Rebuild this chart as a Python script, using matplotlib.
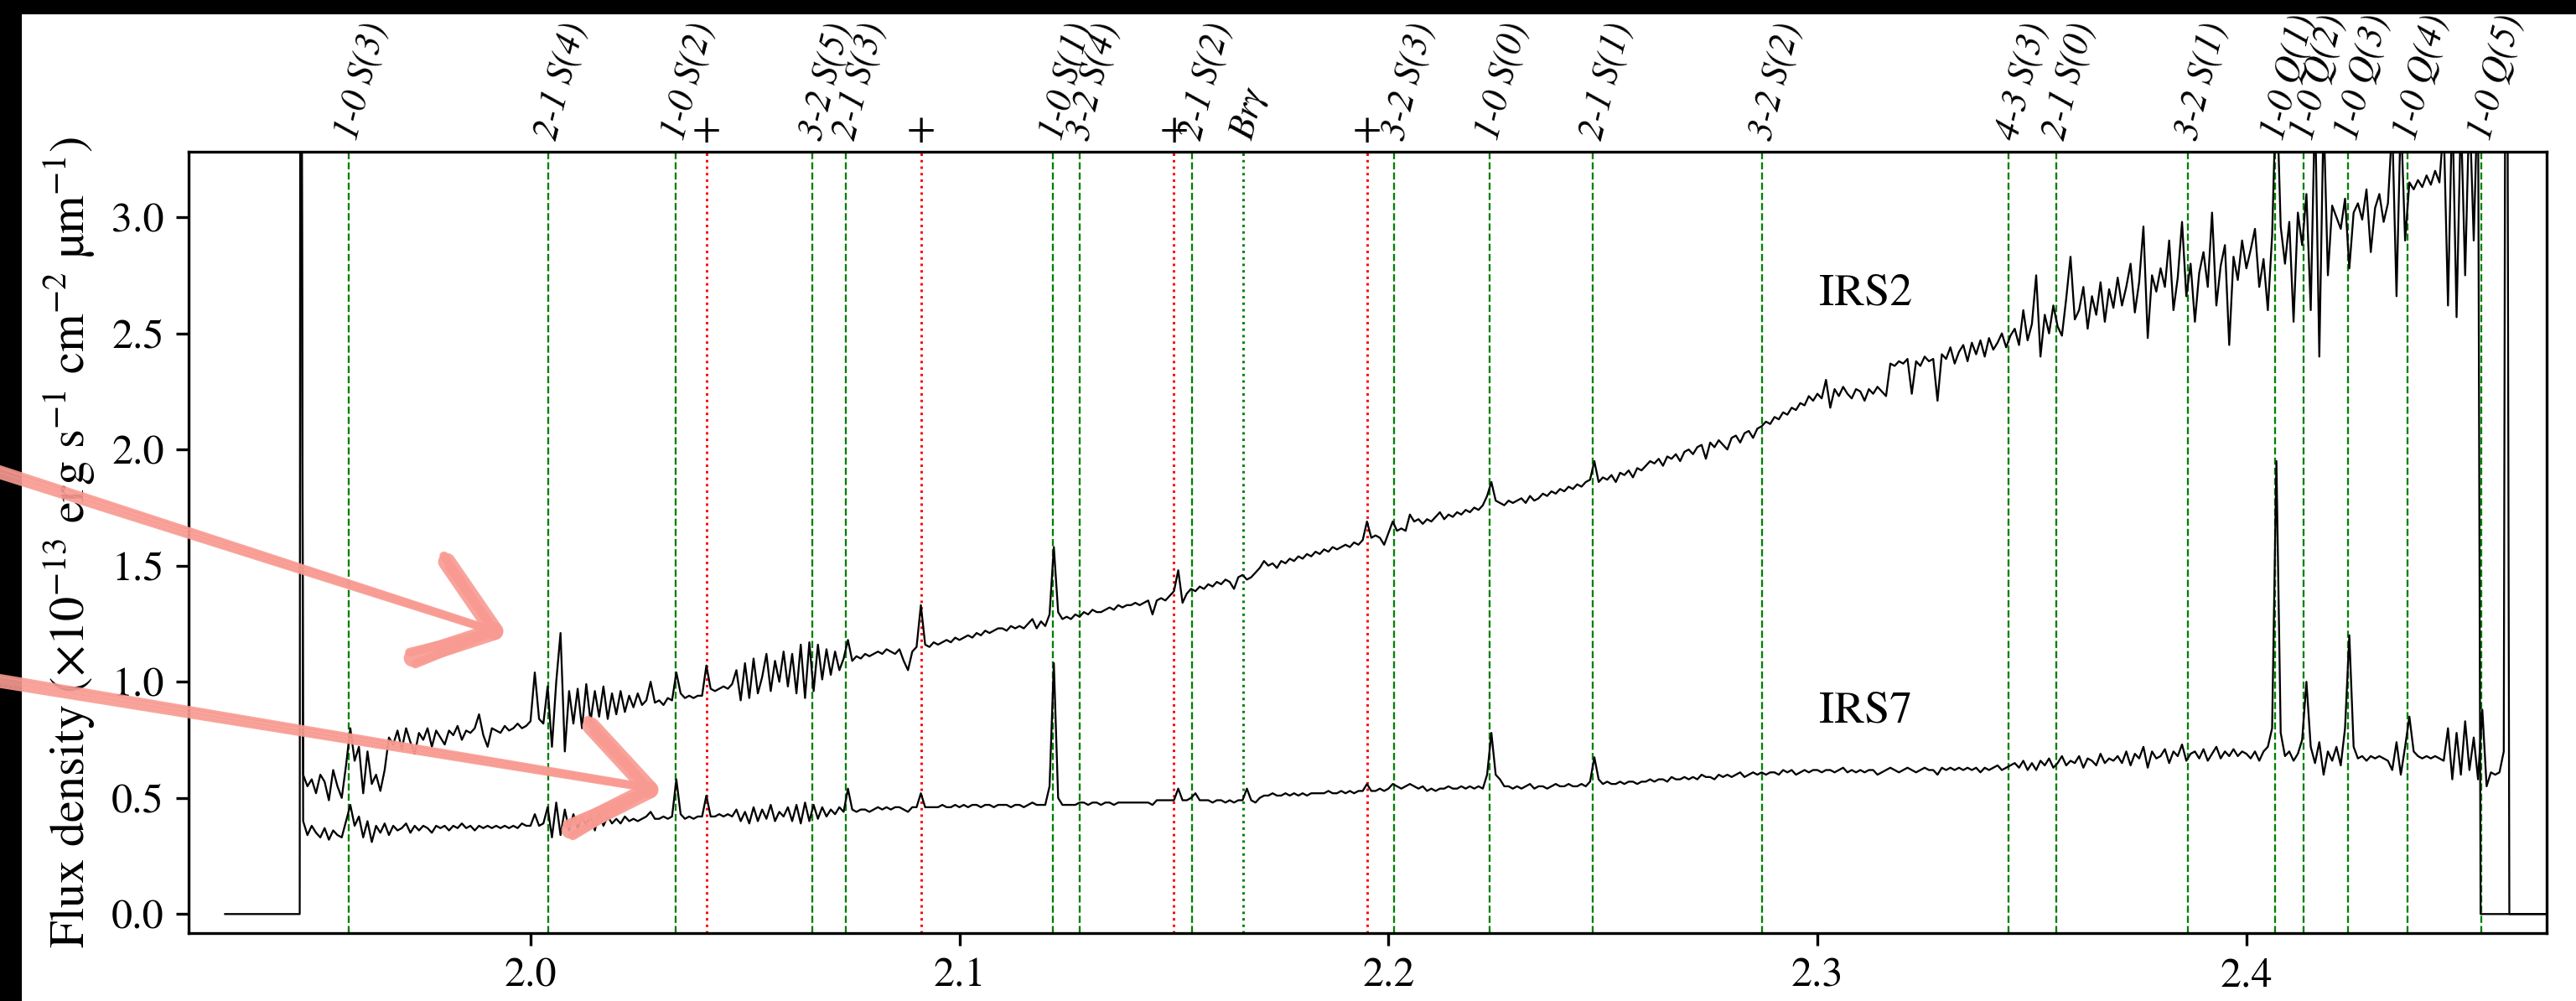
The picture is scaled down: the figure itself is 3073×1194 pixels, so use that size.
import numpy as np
import matplotlib.pyplot as plt
from matplotlib.lines import Line2D
from matplotlib.patches import Rectangle

plt.rcParams['font.family'] = 'STIXGeneral'
plt.rcParams['mathtext.fontset'] = 'stix'

# line identifications (micron)
h2_names = ['1-0 S(3)', '2-1 S(4)', '1-0 S(2)', '3-2 S(5)', '2-1 S(3)', '1-0 S(1)', '3-2 S(4)',
            '2-1 S(2)', '3-2 S(3)', '1-0 S(0)', '2-1 S(1)', '3-2 S(2)', '4-3 S(3)', '2-1 S(0)',
            '3-2 S(1)', '1-0 Q(1)', '1-0 Q(2)', '1-0 Q(3)', '1-0 Q(4)', '1-0 Q(5)']
h2_wl = [1.9576, 2.0041, 2.0338, 2.0656, 2.0735, 2.1218, 2.1280, 2.1542, 2.2014, 2.2235,
         2.2477, 2.2870, 2.3445, 2.3556, 2.3864, 2.4066, 2.4134, 2.4237, 2.4375, 2.4548]
brg_wl = 2.1661
plus_wl = [2.0410, 2.0910, 2.1500, 2.1950]

# spectra sampled from 1.947 um in steps of 0.001 um
wl_start = 1.947
wl_step = 0.001

irs2_flux = [
    0.60, 0.55, 0.58,
    0.52, 0.60, 0.57, 0.49, 0.62, 0.55, 0.50, 0.64, 0.80, 0.66,
    0.72, 0.52, 0.70, 0.56, 0.60, 0.53, 0.62, 0.76, 0.73, 0.79,
    0.71, 0.80, 0.74, 0.69, 0.78, 0.75, 0.80, 0.72, 0.79, 0.76,
    0.73, 0.79, 0.77, 0.81, 0.75, 0.79, 0.78, 0.80, 0.86, 0.77,
    0.72, 0.80, 0.79, 0.78, 0.81, 0.79, 0.80, 0.82, 0.80, 0.81,
    0.83, 1.04, 0.84, 0.82, 0.98, 0.72, 1.00, 1.21, 0.70, 0.96,
    0.82, 0.97, 0.80, 0.99, 0.83, 0.96, 0.85, 0.98, 0.84, 0.95,
    0.86, 0.96, 0.87, 0.94, 0.89, 0.95, 0.90, 0.92, 1.00, 0.91,
    0.92, 0.90, 0.93, 0.92, 1.04, 0.95, 0.93, 0.94, 0.93, 0.94,
    0.94, 1.07, 0.97, 0.96, 0.97, 0.98, 0.97, 0.99, 1.05, 0.92,
    1.08, 0.93, 1.10, 0.95, 1.02, 1.12, 0.96, 1.09, 1.00, 1.13,
    0.98, 1.12, 0.95, 1.16, 0.93, 1.17, 0.96, 1.16, 1.01, 1.14,
    1.03, 1.13, 1.05, 1.10, 1.18, 1.09, 1.11, 1.10, 1.12, 1.11,
    1.12, 1.13, 1.12, 1.14, 1.13, 1.12, 1.14, 1.09, 1.05, 1.13,
    1.15, 1.33, 1.16, 1.15, 1.17, 1.16, 1.17, 1.18, 1.17, 1.19,
    1.18, 1.19, 1.20, 1.19, 1.21, 1.20, 1.22, 1.21, 1.22, 1.23,
    1.23, 1.22, 1.24, 1.23, 1.24, 1.23, 1.25, 1.27, 1.23, 1.26,
    1.24, 1.29, 1.58, 1.30, 1.27, 1.28, 1.27, 1.29, 1.28, 1.30,
    1.29, 1.31, 1.30, 1.30, 1.31, 1.32, 1.31, 1.33, 1.32, 1.33,
    1.33, 1.34, 1.33, 1.34, 1.35, 1.29, 1.35, 1.36, 1.35, 1.37,
    1.39, 1.48, 1.34, 1.38, 1.40, 1.39, 1.41, 1.40, 1.42, 1.41,
    1.43, 1.42, 1.44, 1.43, 1.40, 1.45, 1.46, 1.44, 1.45, 1.47,
    1.49, 1.52, 1.50, 1.51, 1.49, 1.52, 1.51, 1.53, 1.52, 1.54,
    1.53, 1.55, 1.54, 1.56, 1.55, 1.57, 1.56, 1.58, 1.57, 1.58,
    1.59, 1.58, 1.60, 1.59, 1.61, 1.69, 1.62, 1.63, 1.62, 1.59,
    1.64, 1.69, 1.65, 1.66, 1.65, 1.72, 1.69, 1.70, 1.68, 1.70,
    1.69, 1.71, 1.73, 1.70, 1.72, 1.71, 1.73, 1.72, 1.74, 1.73,
    1.75, 1.74, 1.76, 1.80, 1.86, 1.78, 1.77, 1.76, 1.78, 1.77,
    1.78, 1.79, 1.77, 1.80, 1.78, 1.79, 1.81, 1.80, 1.82, 1.81,
    1.83, 1.82, 1.84, 1.83, 1.85, 1.84, 1.86, 1.87, 1.95, 1.86,
    1.88, 1.87, 1.89, 1.86, 1.90, 1.89, 1.91, 1.88, 1.92, 1.91,
    1.93, 1.95, 1.94, 1.96, 1.93, 1.97, 1.96, 1.98, 1.95, 1.99,
    2.00, 1.98, 2.01, 2.02, 1.96, 2.03, 2.01, 2.04, 2.02, 2.00,
    2.05, 2.06, 2.03, 2.07, 2.08, 2.05, 2.09, 2.10, 2.12, 2.11,
    2.14, 2.13, 2.16, 2.15, 2.18, 2.17, 2.20, 2.19, 2.23, 2.21,
    2.24, 2.22, 2.30, 2.18, 2.26, 2.23, 2.27, 2.24, 2.22, 2.26,
    2.25, 2.21, 2.26, 2.24, 2.27, 2.25, 2.23, 2.37, 2.36, 2.38,
    2.37, 2.39, 2.24, 2.38, 2.36, 2.40, 2.38, 2.39, 2.21, 2.41,
    2.39, 2.44, 2.37, 2.42, 2.45, 2.38, 2.46, 2.41, 2.47, 2.40,
    2.48, 2.43, 2.46, 2.50, 2.44, 2.49, 2.52, 2.45, 2.60, 2.47,
    2.54, 2.75, 2.40, 2.58, 2.50, 2.62, 2.53, 2.49, 2.65, 2.83,
    2.56, 2.60, 2.70, 2.52, 2.66, 2.58, 2.72, 2.55, 2.69, 2.61,
    2.74, 2.62, 2.70, 2.80, 2.59, 2.72, 2.96, 2.48, 2.75, 2.68,
    2.78, 2.70, 2.90, 2.60, 2.74, 2.98, 2.66, 2.80, 2.55, 2.76,
    2.85, 2.70, 3.02, 2.62, 2.79, 2.88, 2.45, 2.83, 2.73, 2.90,
    2.78, 2.86, 2.95, 2.70, 2.82, 2.60, 2.92, 3.60, 2.96, 2.80,
    2.98, 2.55, 3.02, 2.88, 3.10, 2.60, 3.50, 2.40, 3.45, 2.75,
    3.05, 3.00, 2.95, 3.08, 2.78, 3.02, 3.06, 2.99, 3.12, 2.85,
    3.04, 3.10, 2.98, 3.06, 3.40, 2.66, 3.45, 2.90, 3.15, 3.12,
    3.16, 3.13, 3.18, 3.14, 3.20, 3.15, 3.40, 2.62, 3.50, 2.57,
    3.45, 2.75, 3.50, 2.90, 3.60,
]

irs7_flux = [
    0.40, 0.34, 0.38,
    0.35, 0.33, 0.37, 0.32, 0.36, 0.34, 0.33, 0.40, 0.47, 0.38,
    0.42, 0.33, 0.40, 0.31, 0.38, 0.35, 0.39, 0.34, 0.38, 0.36,
    0.37, 0.39, 0.35, 0.38, 0.36, 0.38, 0.37, 0.35, 0.38, 0.37,
    0.38, 0.36, 0.38, 0.37, 0.39, 0.37, 0.38, 0.36, 0.38, 0.37,
    0.38, 0.37, 0.38, 0.37, 0.38, 0.37, 0.38, 0.37, 0.39, 0.38,
    0.38, 0.43, 0.38, 0.39, 0.46, 0.33, 0.48, 0.34, 0.45, 0.36,
    0.43, 0.37, 0.42, 0.38, 0.43, 0.36, 0.44, 0.38, 0.42, 0.39,
    0.41, 0.39, 0.42, 0.40, 0.41, 0.40, 0.41, 0.42, 0.44, 0.41,
    0.41, 0.42, 0.41, 0.42, 0.58, 0.43, 0.41, 0.42, 0.41, 0.42,
    0.42, 0.51, 0.42, 0.42, 0.43, 0.42, 0.43, 0.42, 0.45, 0.40,
    0.44, 0.39, 0.46, 0.40, 0.45, 0.41, 0.47, 0.40, 0.44, 0.42,
    0.46, 0.40, 0.47, 0.39, 0.48, 0.40, 0.47, 0.41, 0.46, 0.42,
    0.45, 0.43, 0.46, 0.44, 0.54, 0.45, 0.44, 0.45, 0.45, 0.44,
    0.45, 0.46, 0.45, 0.46, 0.45, 0.46, 0.46, 0.45, 0.44, 0.46,
    0.46, 0.52, 0.46, 0.46, 0.46, 0.46, 0.47, 0.46, 0.46, 0.47,
    0.46, 0.47, 0.46, 0.47, 0.47, 0.46, 0.47, 0.47, 0.46, 0.47,
    0.47, 0.47, 0.46, 0.47, 0.47, 0.46, 0.47, 0.48, 0.47, 0.47,
    0.47, 0.55, 1.08, 0.50, 0.47, 0.47, 0.47, 0.47, 0.48, 0.48,
    0.47, 0.48, 0.48, 0.47, 0.48, 0.48, 0.47, 0.48, 0.48, 0.48,
    0.48, 0.48, 0.48, 0.48, 0.48, 0.47, 0.49, 0.49, 0.49, 0.49,
    0.49, 0.54, 0.49, 0.49, 0.50, 0.52, 0.49, 0.49, 0.49, 0.48,
    0.49, 0.49, 0.48, 0.49, 0.48, 0.49, 0.49, 0.54, 0.49, 0.48,
    0.50, 0.51, 0.51, 0.52, 0.51, 0.51, 0.52, 0.51, 0.52, 0.51,
    0.52, 0.51, 0.52, 0.52, 0.52, 0.52, 0.53, 0.52, 0.52, 0.53,
    0.52, 0.53, 0.52, 0.53, 0.53, 0.56, 0.53, 0.53, 0.54, 0.53,
    0.54, 0.56, 0.55, 0.54, 0.55, 0.56, 0.55, 0.54, 0.55, 0.53,
    0.54, 0.53, 0.54, 0.54, 0.55, 0.54, 0.54, 0.55, 0.54, 0.55,
    0.54, 0.55, 0.54, 0.60, 0.78, 0.60, 0.58, 0.55, 0.55, 0.54,
    0.55, 0.54, 0.55, 0.56, 0.54, 0.55, 0.55, 0.54, 0.55, 0.56,
    0.55, 0.55, 0.56, 0.55, 0.55, 0.56, 0.55, 0.57, 0.675, 0.58,
    0.56, 0.57, 0.56, 0.56, 0.57, 0.56, 0.57, 0.57, 0.56, 0.57,
    0.57, 0.58, 0.57, 0.58, 0.58, 0.57, 0.59, 0.58, 0.58, 0.59,
    0.58, 0.59, 0.58, 0.60, 0.59, 0.59, 0.58, 0.60, 0.59, 0.60,
    0.59, 0.60, 0.61, 0.59, 0.60, 0.61, 0.60, 0.61, 0.60, 0.61,
    0.61, 0.60, 0.62, 0.61, 0.62, 0.60, 0.61, 0.62, 0.61, 0.62,
    0.62, 0.61, 0.62, 0.62, 0.61, 0.62, 0.63, 0.61, 0.62, 0.61,
    0.62, 0.61, 0.62, 0.62, 0.60, 0.61, 0.62, 0.63, 0.62, 0.61,
    0.62, 0.63, 0.62, 0.61, 0.62, 0.63, 0.62, 0.62, 0.60, 0.63,
    0.62, 0.63, 0.62, 0.63, 0.62, 0.63, 0.62, 0.63, 0.61, 0.63,
    0.62, 0.63, 0.64, 0.62, 0.63, 0.64, 0.65, 0.63, 0.66, 0.62,
    0.65, 0.62, 0.66, 0.64, 0.67, 0.63, 0.65, 0.68, 0.64, 0.66,
    0.65, 0.68, 0.63, 0.67, 0.66, 0.64, 0.69, 0.65, 0.67, 0.66,
    0.68, 0.65, 0.70, 0.64, 0.69, 0.67, 0.72, 0.63, 0.70, 0.67,
    0.68, 0.71, 0.65, 0.70, 0.68, 0.73, 0.66, 0.69, 0.70, 0.67,
    0.71, 0.66, 0.69, 0.72, 0.67, 0.70, 0.68, 0.71, 0.68, 0.70,
    0.69, 0.67, 0.70, 0.66, 0.70, 0.72, 0.80, 1.95, 0.78, 0.68,
    0.70, 0.66, 0.69, 0.75, 1.00, 0.72, 0.65, 0.74, 0.60, 0.70,
    0.66, 0.72, 0.64, 0.80, 1.20, 0.72, 0.67, 0.68, 0.66, 0.68,
    0.67, 0.68, 0.67, 0.66, 0.62, 0.74, 0.60, 0.72, 0.85, 0.70,
    0.68, 0.67, 0.68, 0.67, 0.68, 0.67, 0.66, 0.80, 0.58, 0.78,
    0.60, 0.83, 0.62, 0.76, 0.58, 0.88, 0.55, 0.61, 0.60, 0.61, 0.70,
]

# detector edges: padding at zero and single saturated pixels
irs2_left_wl = [1.9288, 1.9462, 1.9464]
irs2_left_flux = [0.0, 0.0, 6.0]
irs2_right_wl = [2.4546, 2.4800]
irs2_right_flux = [0.0, 0.0]
irs7_left_wl = [1.9464]
irs7_left_flux = [6.0]
irs7_right_wl = [2.4606, 2.4613, 2.4800]
irs7_right_flux = [6.0, 0.0, 0.0]

assert len(irs2_flux) == 508 and len(irs7_flux) == 514

wl2 = wl_start + wl_step * np.arange(len(irs2_flux))
wl7 = wl_start + wl_step * np.arange(len(irs7_flux))
x2 = np.concatenate([irs2_left_wl, wl2, irs2_right_wl])
y2 = np.concatenate([irs2_left_flux, irs2_flux, irs2_right_flux])
x7 = np.concatenate([irs7_left_wl, wl7, irs7_right_wl])
y7 = np.concatenate([irs7_left_flux, irs7_flux, irs7_right_flux])

W, H = 3073, 1194
fig = plt.figure(figsize=(W / 300, H / 300), dpi=300)
ax = fig.add_axes([225 / W, 1 - 1113 / H, (3038 - 225) / W, (1113 - 181) / H])

lab = dict(xycoords=('data', 'axes fraction'), xytext=(0, 3.5), textcoords='offset points',
           rotation=76, rotation_mode='anchor', ha='left', va='center',
           fontsize=10.5, style='italic')
for name, w in zip(h2_names, h2_wl):
    ax.axvline(w, color='green', ls='--', lw=0.55)
    ax.annotate(name, xy=(w, 1), **lab)
ax.axvline(brg_wl, color='green', ls=':', lw=0.7)
ax.annotate('Brγ', xy=(brg_wl, 1), **lab)
for w in plus_wl:
    ax.axvline(w, color='red', ls=':', lw=0.7)
    ax.annotate('+', xy=(w, 1), xycoords=('data', 'axes fraction'), xytext=(0, 0.5),
                textcoords='offset points', ha='center', va='bottom', fontsize=12)

ax.plot(x2, y2, color='black', lw=0.55)
ax.plot(x7, y7, color='black', lw=0.55)

ax.text(2.3004, 2.67, 'IRS2', fontsize=13, ha='left', va='center')
ax.text(2.3004, 0.87, 'IRS7', fontsize=13, ha='left', va='center')

ax.set_xlim(1.9203, 2.4700)
ax.set_ylim(-0.082, 3.282)
ax.set_xticks([2.0, 2.1, 2.2, 2.3, 2.4])
ax.set_yticks([0.0, 0.5, 1.0, 1.5, 2.0, 2.5, 3.0])
ax.xaxis.set_major_formatter(plt.FormatStrFormatter('%.1f'))
ax.yaxis.set_major_formatter(plt.FormatStrFormatter('%.1f'))
ax.tick_params(labelsize=12)
ax.set_ylabel(r'Flux density (×10$^{-13}$ erg s$^{-1}$ cm$^{-2}$ µm$^{-1}$)', fontsize=14)

# dark strips along the top and left edge of the picture
fig.add_artist(Rectangle((0, 1 - 15 / H), 1, 15 / H, transform=fig.transFigure,
                         color='black', zorder=1))
fig.add_artist(Rectangle((0, 0), 24 / W, 1, transform=fig.transFigure,
                         color='black', zorder=1))


# hand-drawn pink arrows (pixel positions on the picture)
def px(xs, ys):
    return [x / W for x in xs], [1 - y / H for y in ys]


pink = '#f89a91'
for tail, tip, arm1, arm2 in [((0, 563), (590, 753), (533, 670), (492, 785)),
                              ((0, 812), (775, 942), (705, 866), (680, 990))]:
    for dy, lw in [(-6, 1.0), (-2, 1.4), (3, 1.2), (7, 0.8)]:
        xs, ys = px([tail[0], tip[0] - 12], [tail[1] + dy, tip[1] - 4 + dy * 0.5])
        fig.add_artist(Line2D(xs, ys, transform=fig.transFigure, color=pink,
                              lw=lw, alpha=0.9, solid_capstyle='round', zorder=3))
    for arm in (arm1, arm2):
        for d, lw in [(0, 5.0), (7, 2.5), (-7, 2.5)]:
            xs, ys = px([arm[0] + d * 0.5, tip[0]], [arm[1] + d, tip[1]])
            fig.add_artist(Line2D(xs, ys, transform=fig.transFigure, color=pink,
                                  lw=lw, alpha=0.9, solid_capstyle='round', zorder=3))

fig.savefig('out.png', dpi=300)
